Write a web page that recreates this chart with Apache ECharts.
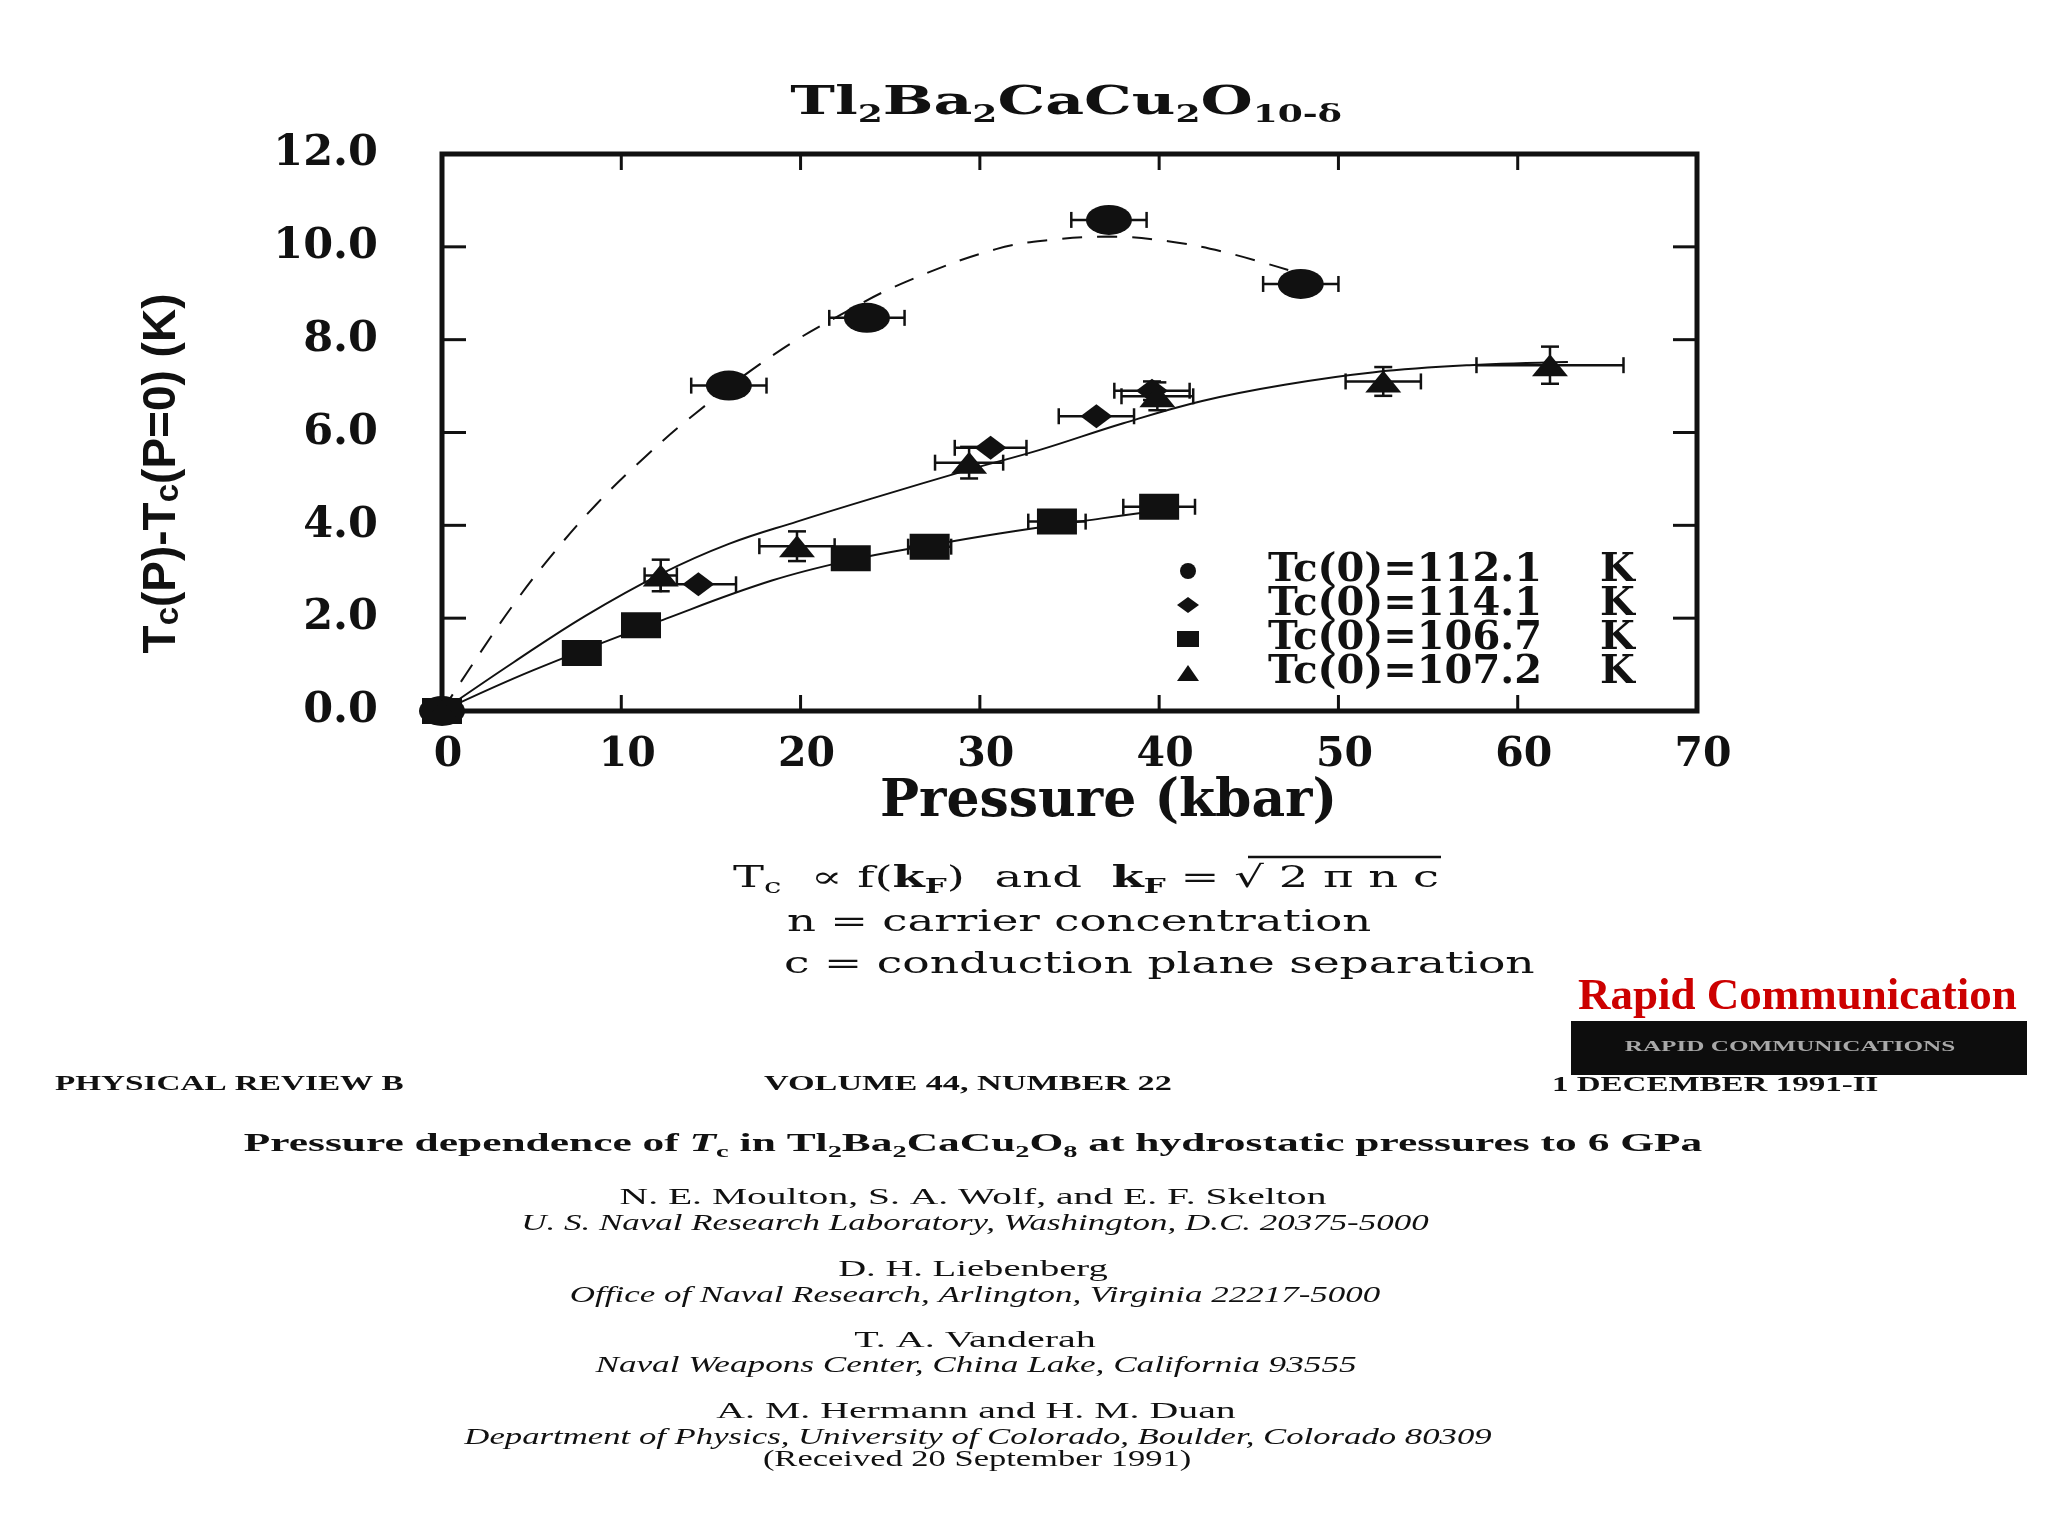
<!DOCTYPE html>
<html><head><meta charset="utf-8">
<script src="https://cdn.jsdelivr.net/npm/echarts@6/dist/echarts.min.js"></script>
<style>html,body{margin:0;padding:0;background:#fff}#c{width:2048px;height:1536px}</style>
</head><body><div id="c"></div>
<script>
// ---------------- data ----------------
const xTickLabels = ['0','10','20','30','40','50','60','70'];
const yTickLabels = ['0.0','2.0','4.0','6.0','8.0','10.0','12.0'];
const xInnerTicks = [10, 20, 30, 40, 50, 60];
const yInnerTicks = [2, 4, 6, 8, 10];
const legendNames = ['Tc(0)=112.1', 'Tc(0)=114.1', 'Tc(0)=106.7', 'Tc(0)=107.2'];

const circleP    = [0, 16.0, 23.7, 37.2, 47.9];
const circleT    = [0, 7.01, 8.47, 10.58, 9.20];
const circlePErr = [0, 2.1, 2.1, 2.1, 2.1];
const circleTErr = [0, 0, 0, 0, 0];

const diamondP    = [0, 14.3, 30.6, 36.5, 39.6];
const diamondT    = [0, 2.73, 5.67, 6.35, 6.90];
const diamondPErr = [0, 2.1, 2.0, 2.1, 2.1];
const diamondTErr = [0, 0, 0, 0, 0.2];

const squareP    = [0, 7.8, 11.1, 22.8, 27.2, 34.3, 40.0];
const squareT    = [0, 1.25, 1.85, 3.29, 3.54, 4.08, 4.40];
const squarePErr = [0, 0, 0, 0, 1.2, 1.6, 2.0];
const squareTErr = [0, 0, 0, 0, 0, 0, 0];

const triangleP    = [0, 12.2, 19.8, 29.4, 39.9, 52.5, 61.8];
const triangleT    = [0, 2.92, 3.55, 5.35, 6.78, 7.10, 7.45];
const trianglePErr = [0, 0.9, 2.1, 1.9, 2.0, 2.1, 4.1];
const triangleTErr = [0, 0.34, 0.32, 0.34, 0.3, 0.31, 0.4];

// hand-drawn fit curves
const fitDashedP = [0, 2, 4, 6, 8.6, 11.4, 14.1, 18.4, 22.3, 25.9, 30.9, 34.0, 37.2, 40.5, 43.5, 47.2];
const fitDashedT = [0, 1.18, 2.3, 3.3, 4.45, 5.5, 6.4, 7.65, 8.55, 9.25, 9.95, 10.15, 10.22, 10.12, 9.9, 9.5];
const fitUpperP  = [0, 4, 8, 12.2, 16, 19.8, 24, 29.4, 33.3, 38, 42.4, 47, 52, 57.3, 62.8];
const fitUpperT  = [0, 1.05, 2.05, 2.95, 3.6, 4.08, 4.58, 5.2, 5.62, 6.2, 6.68, 7.03, 7.3, 7.45, 7.52];
const fitLowerP  = [0, 5.1, 12.5, 18.4, 22.8, 27.2, 31.0, 36.8, 40.0];
const fitLowerT  = [0, 0.88, 1.99, 2.81, 3.25, 3.57, 3.82, 4.15, 4.32];

// ---------------- helpers ----------------
const INK = '#111';
const zip = (a, b) => a.map((v, i) => [v, b[i]]);
const zip4 = (a, b, c, d) => a.map((v, i) => [v, b[i], c[i], d[i]]);

function errRender(params, api) {
  const x = api.value(0), y = api.value(1), ex = api.value(2), ey = api.value(3);
  const st = { stroke: INK, lineWidth: 2.5 };
  const ch = [];
  const line = (x1, y1, x2, y2) => ch.push({ type: 'line', shape: { x1, y1, x2, y2 }, style: st });
  if (ex > 0) {
    const a = api.coord([x - ex, y]), b = api.coord([x + ex, y]);
    line(a[0], a[1], b[0], b[1]);
    line(a[0], a[1] - 8, a[0], a[1] + 8);
    line(b[0], b[1] - 8, b[0], b[1] + 8);
  }
  if (ey > 0) {
    const a = api.coord([x, y - ey]), b = api.coord([x, y + ey]);
    line(a[0], a[1], b[0], b[1]);
    line(a[0] - 9, a[1], a[0] + 9, a[1]);
    line(b[0] - 9, b[1], b[0] + 9, b[1]);
  }
  return { type: 'group', children: ch };
}
function errSeries(data) {
  return { type: 'custom', renderItem: errRender, data, encode: { x: 0, y: 1 }, z: 3, silent: true };
}
// inward tick marks on all four sides of the frame, placed through the axis scales
function tickSeries(values, dim, len) {
  return { type: 'custom', silent: true, z: 6, clip: false,
    data: values.map(v => dim === 'x' ? [v, 0] : [0, v]),
    encode: { x: 0, y: 1 },
    renderItem: (params, api) => {
      const cs = params.coordSys;
      const p = api.coord([api.value(0), api.value(1)]);
      const st = { stroke: INK, lineWidth: 3 };
      if (dim === 'x') {
        const yb = cs.y + cs.height, yt = cs.y;
        return { type: 'group', children: [
          { type: 'line', shape: { x1: p[0], y1: yb, x2: p[0], y2: yb - len }, style: st },
          { type: 'line', shape: { x1: p[0], y1: yt, x2: p[0], y2: yt + len }, style: st } ] };
      }
      const xl = cs.x, xr = cs.x + cs.width;
      return { type: 'group', children: [
        { type: 'line', shape: { x1: xl, y1: p[1], x2: xl + len, y2: p[1] }, style: st },
        { type: 'line', shape: { x1: xr, y1: p[1], x2: xr - len, y2: p[1] }, style: st } ] };
    } };
}
function fitSeries(data, dashed) {
  return { type: 'line', data, smooth: 0.4, showSymbol: false, symbol: 'none', z: 2, silent: true,
    lineStyle: { color: INK, width: 2, type: dashed ? [20, 15] : 'solid' } };
}
function scatterSeries(name, data, symbol, size) {
  return { type: 'scatter', name, data, symbol, symbolSize: size, z: 5,
    itemStyle: { color: INK, opacity: 1 } };
}
function T(x, y, text, o) {
  o = o || {};
  const font = (o.style || 'normal') + ' ' + (o.weight || 'normal') + ' ' + o.size + 'px ' + (o.family || '"Liberation Serif"');
  return { type: 'text', x, y, scaleX: o.sx || 1, scaleY: 1, z: 20,
    style: { text, fill: o.fill || INK, font,
      align: o.align || 'center', verticalAlign: 'middle',
      textAlign: o.align || 'center', textVerticalAlign: 'middle', rich: o.rich } };
}

const serifRich = (base, sub, fam, weight) => ({
  m: { fontSize: base, fontFamily: fam, fontWeight: weight, lineHeight: base + 8 },
  s: { fontSize: sub, fontFamily: fam, fontWeight: weight, verticalAlign: 'bottom', lineHeight: Math.round(sub * 0.6) },
  i: { fontSize: base, fontFamily: fam, fontWeight: weight, fontStyle: 'italic', lineHeight: base + 8 },
  b: { fontSize: base, fontFamily: fam, fontWeight: 'bold', lineHeight: base + 8 },
  sb: { fontSize: sub, fontFamily: fam, fontWeight: 'bold', verticalAlign: 'bottom', lineHeight: Math.round(sub * 0.6) }
});

const noTick = { show: false };

// ---------------- chart ----------------
const chart = echarts.init(document.getElementById('c'), null, { renderer: 'canvas' });

const option = {
  backgroundColor: '#fff',
  animation: false,
  grid: { left: 442, right: 351, top: 154, bottom: 825, show: true, borderColor: INK, borderWidth: 5 },
  xAxis: [
    { type: 'value', min: 0, max: 70, interval: 10, position: 'bottom',
      axisLine: { show: false }, splitLine: { show: false }, axisTick: noTick,
      axisLabel: { color: INK, fontFamily: 'DejaVu Serif', fontWeight: 'bold', fontSize: 41, margin: 24,
        padding: [0, 0, 0, 12], formatter: v => xTickLabels[Math.round(v / 10)] },
      name: 'Pressure (kbar)', nameLocation: 'middle', nameGap: 58,
      nameTextStyle: { color: INK, fontFamily: 'DejaVu Serif', fontWeight: 'bold', fontSize: 52, padding: [0, 0, 0, 78] } }
  ],
  yAxis: [
    { type: 'value', min: 0, max: 12, interval: 2, position: 'left',
      axisLine: { show: false }, splitLine: { show: false }, axisTick: noTick,
      axisLabel: { color: INK, fontFamily: 'DejaVu Serif', fontWeight: 'bold', fontSize: 43, margin: 64,
        formatter: v => yTickLabels[Math.round(v / 2)] },
      name: 'T{s|c}(P)-T{s|c}(P=0) (K)', nameLocation: 'middle', nameGap: 257,
      nameTextStyle: { color: INK, fontFamily: '"Liberation Sans"', fontWeight: 'bold', fontSize: 46, padding: [0, 82, 0, 0],
        rich: { s: { fontFamily: '"Liberation Sans"', fontWeight: 'bold', fontSize: 33, verticalAlign: 'bottom', lineHeight: 15, color: INK } } } }
  ],
  legend: {
    orient: 'vertical', left: 1172, top: 546, itemGap: -6, itemWidth: 22, itemHeight: 16,
    data: legendNames,
    formatter: n => '{g|}{a|' + n + '}{k|K}',
    textStyle: { color: INK,
      rich: {
        g: { width: 64, lineHeight: 28 },
        a: { width: 332, fontFamily: 'DejaVu Serif', fontWeight: 'bold', fontSize: 40, lineHeight: 28, color: INK },
        k: { fontFamily: 'DejaVu Serif', fontWeight: 'bold', fontSize: 40, lineHeight: 28, color: INK }
      } }
  },
  series: [
    tickSeries(xInnerTicks, 'x', 16),
    tickSeries(yInnerTicks, 'y', 24),
    fitSeries(zip(fitDashedP, fitDashedT), true),
    fitSeries(zip(fitUpperP, fitUpperT), false),
    fitSeries(zip(fitLowerP, fitLowerT), false),
    errSeries(zip4(circleP, circleT, circlePErr, circleTErr)),
    errSeries(zip4(diamondP, diamondT, diamondPErr, diamondTErr)),
    errSeries(zip4(squareP, squareT, squarePErr, squareTErr)),
    errSeries(zip4(triangleP, triangleT, trianglePErr, triangleTErr)),
    scatterSeries(legendNames[0], zip(circleP, circleT), 'circle', [46, 30]),
    scatterSeries(legendNames[1], zip(diamondP, diamondT), 'diamond', [32, 24]),
    scatterSeries(legendNames[2], zip(squareP, squareT), 'rect', [40, 26]),
    scatterSeries(legendNames[3], zip(triangleP, triangleT), 'triangle', [36, 22])
  ],
  graphic: [
    // chart title
    T(1066, 104, '{m|Tl}{s|2}{m|Ba}{s|2}{m|CaCu}{s|2}{m|O}{s|10-δ}',
      { size: 40, family: 'DejaVu Serif', weight: 'bold', sx: 1.5, rich: serifRich(40, 24, 'DejaVu Serif', 'bold') }),
    // formula block
    T(733, 879, '{m|T}{s|c}{m|  ∝ f(}{b|k}{sb|F}{m|)  and  }{b|k}{sb|F}{m| = √ 2 π n c}',
      { size: 30, family: 'DejaVu Serif', align: 'left', sx: 1.55, rich: serifRich(30, 20, 'DejaVu Serif', 'normal') }),
    { type: 'line', z: 20, shape: { x1: 1248, y1: 857, x2: 1441, y2: 857 }, style: { stroke: INK, lineWidth: 2.5 } },
    T(787, 923, 'n = carrier concentration', { size: 30, family: 'DejaVu Serif', align: 'left', sx: 1.5 }),
    T(784, 965, 'c = conduction plane separation', { size: 30, family: 'DejaVu Serif', align: 'left', sx: 1.52 }),
    // red note + black banner
    T(1578, 997, 'Rapid Communication', { size: 45, weight: 'bold', align: 'left', fill: '#cc0000' }),
    { type: 'rect', z: 15, shape: { x: 1571, y: 1021, width: 456, height: 54 }, style: { fill: '#0d0d0d' } },
    T(1790, 1047, 'RAPID COMMUNICATIONS', { size: 14, weight: 'bold', sx: 1.8, fill: '#a8a8a8' }),
    // journal header
    T(55, 1085, 'PHYSICAL REVIEW B', { size: 20, weight: 'bold', align: 'left', sx: 1.66 }),
    T(764, 1085, 'VOLUME 44, NUMBER 22', { size: 20, weight: 'bold', align: 'left', sx: 1.71 }),
    T(1552, 1086, '1 DECEMBER 1991-II', { size: 20, weight: 'bold', align: 'left', sx: 1.65 }),
    T(973, 1144, '{b|Pressure dependence of }{bi|T}{sb|c}{b| in Tl}{sb|2}{b|Ba}{sb|2}{b|CaCu}{sb|2}{b|O}{sb|8}{b| at hydrostatic pressures to 6 GPa}',
      { size: 26, weight: 'bold', sx: 1.67,
        rich: Object.assign(serifRich(26, 17, '"Liberation Serif"', 'bold'),
          { bi: { fontSize: 26, fontFamily: '"Liberation Serif"', fontWeight: 'bold', fontStyle: 'italic', lineHeight: 34 } }) }),
    T(973, 1198, 'N. E. Moulton, S. A. Wolf, and E. F. Skelton', { size: 23, sx: 1.72 }),
    T(975, 1224, 'U. S. Naval Research Laboratory, Washington, D.C. 20375-5000', { size: 23, style: 'italic', sx: 1.52 }),
    T(973, 1270, 'D. H. Liebenberg', { size: 23, sx: 1.68 }),
    T(975, 1296, 'Office of Naval Research, Arlington, Virginia 22217-5000', { size: 23, style: 'italic', sx: 1.52 }),
    T(975, 1341, 'T. A. Vanderah', { size: 23, sx: 1.74 }),
    T(976, 1366, 'Naval Weapons Center, China Lake, California 93555', { size: 23, style: 'italic', sx: 1.53 }),
    T(976, 1412, 'A. M. Hermann and H. M. Duan', { size: 23, sx: 1.73 }),
    T(978, 1438, 'Department of Physics, University of Colorado, Boulder, Colorado 80309', { size: 23, style: 'italic', sx: 1.51 }),
    T(977, 1460, '(Received 20 September 1991)', { size: 23, sx: 1.5 })
  ]
};
chart.setOption(option);
</script></body></html>
